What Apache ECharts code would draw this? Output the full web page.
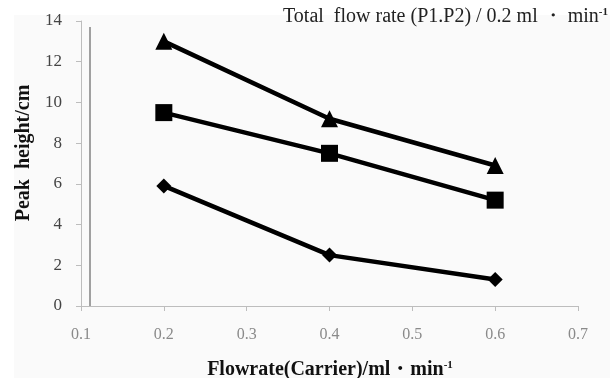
<!DOCTYPE html>
<html><head><meta charset="utf-8">
<script src="https://cdn.jsdelivr.net/npm/echarts@6/dist/echarts.min.js"></script>
<style>html,body{margin:0;padding:0;background:#fff}#c{width:615px;height:378px}</style>
</head><body><div id="c"></div>
<script>
const flowRates = [0.2, 0.4, 0.6];
const triangleSeries = [13.0, 9.2, 6.9];
const squareSeries = [9.5, 7.5, 5.2];
const diamondSeries = [5.9, 2.5, 1.3];
const xTicks = [0.1, 0.2, 0.3, 0.4, 0.5, 0.6, 0.7];
const yTicks = [0, 2, 4, 6, 8, 10, 12, 14];
const artifactLineX = 0.111;
const artifactLineTop = 13.7;

const serif = '"Liberation Serif", "DejaVu Serif", serif';
function pairs(vals){ return flowRates.map((x,i)=>[x, vals[i]]); }
const lineStyle = {color:'#000', width:4.5};
const chart = echarts.init(document.getElementById('c'), null, {renderer:'canvas'});
chart.setOption({
  backgroundColor:'#fff',
  animation:false,
  grid:{left:81, right:37, top:21, bottom:72},
  xAxis:{type:'value', min:xTicks[0], max:xTicks[xTicks.length-1], interval:0.1,
    axisLine:{lineStyle:{color:'#bdbdbd', width:1}},
    axisTick:{show:true, length:5, lineStyle:{color:'#bdbdbd'}},
    splitLine:{show:false},
    axisLabel:{color:'#8a8a8a', fontFamily:serif, fontSize:16, margin:21, formatter:v=>v.toFixed(1)}
  },
  yAxis:{type:'value', min:yTicks[0], max:yTicks[yTicks.length-1], interval:2,
    axisLine:{show:true, lineStyle:{color:'#bdbdbd', width:1}},
    axisTick:{show:true, length:5, lineStyle:{color:'#bdbdbd'}},
    splitLine:{show:false},
    axisLabel:{color:'#444', fontFamily:serif, fontSize:17, margin:19}
  },
  graphic:[
    {type:'rect', z:-10, shape:{x:14, y:15, width:596, height:363}, style:{fill:'#fafafa'}, silent:true},
    {type:'text', x:608, y:17, style:{
      text:'{t|Total  flow rate (P1.P2) / 0.2 ml ・ min}{s|-1}', align:'right', verticalAlign:'middle',
      rich:{t:{fontFamily:serif, fontSize:20, fill:'#222'}, s:{fontFamily:serif, fontSize:11, fontWeight:'bold', fill:'#222', verticalAlign:'top', padding:[0,0,10,0]}}
    }},
    {type:'text', x:330, y:370, style:{
      text:'{t|Flowrate(Carrier)/ml・min}{s|-1}', align:'center', verticalAlign:'middle',
      rich:{t:{fontFamily:serif, fontWeight:'bold', fontSize:20, fill:'#111'}, s:{fontFamily:serif, fontWeight:'bold', fontSize:11, fill:'#111', verticalAlign:'top', padding:[0,0,10,0]}}
    }},
    {type:'text', x:24, y:153, rotation:Math.PI/2, style:{
      text:'Peak  height/cm', align:'center', verticalAlign:'middle',
      fontFamily:serif, fontWeight:'bold', fontSize:20, fill:'#111'
    }}
  ],
  series:[
    {type:'line', data:pairs(triangleSeries), symbol:'triangle', symbolSize:17, lineStyle, itemStyle:{color:'#000'},
     markLine:{silent:true, symbol:'none', label:{show:false}, lineStyle:{color:'#a0a0a0', width:2, type:'solid'},
       data:[[{coord:[artifactLineX,0]},{coord:[artifactLineX,artifactLineTop]}]]}},
    {type:'line', data:pairs(squareSeries), symbol:'rect', symbolSize:17, lineStyle, itemStyle:{color:'#000'}},
    {type:'line', data:pairs(diamondSeries), symbol:'diamond', symbolSize:15, lineStyle, itemStyle:{color:'#000'}}
  ]
});
</script></body></html>
